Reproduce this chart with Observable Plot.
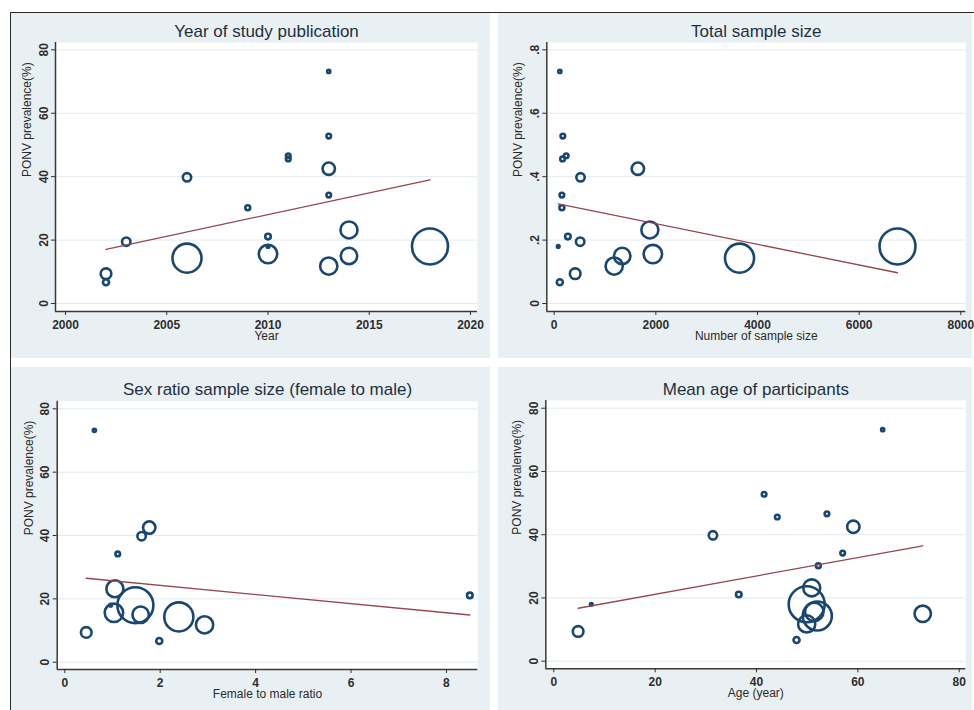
<!DOCTYPE html>
<html>
<head>
<meta charset="utf-8">
<script src="https://cdn.jsdelivr.net/npm/d3@7"></script>
<script src="https://cdn.jsdelivr.net/npm/@observablehq/plot@0.6"></script>
<style>
html, body { margin: 0; padding: 0; background: #ffffff; }
#wrap { position: relative; width: 974px; height: 710px; overflow: hidden; font-family: "Liberation Sans", Arial, sans-serif; }
.panel { position: absolute; background: #e8f0f3; overflow: visible; }
.panel svg { display: block; }
#border { position: absolute; left: 9.5px; top: 11.5px; right: 0; bottom: 0; border-top: 1.5px solid #2b2b2b; border-left: 1.5px solid #2b2b2b; pointer-events: none; }
</style>
</head>
<body>
<div id="wrap"></div>
<script>
// ---- Data (one entry per study) ----
const prevalence  = [73.2, 52.8, 45.6, 46.6, 39.8, 42.5, 34.2, 30.2, 21.1, 18.0, 19.5, 23.2, 15.6, 15.0, 11.8, 14.3, 18.0, 9.4, 6.7];
const pubYear     = [2013, 2013, 2011, 2011, 2006, 2013, 2013, 2009, 2010, 2010, 2003, 2014, 2010, 2014, 2013, 2006, 2018, 2002, 2002];
const sampleSize  = [111, 170, 164, 236, 518, 1646, 151, 151, 269, 79, 511, 1882, 1941, 1338, 1180, 3646, 6754, 413, 111];
const sexRatio    = [0.62, null, null, null, 1.61, 1.77, 1.11, null, 8.49, 0.96, null, 1.05, 1.03, 1.59, 2.93, 2.39, 1.48, 0.45, 1.98];
const meanAge     = [64.9, 41.5, 44.1, 53.9, 31.4, 59.1, 57.0, 52.2, 36.5, 7.4, null, 50.9, 51.4, 72.8, 49.9, 52.0, 49.9, 4.8, 47.9];
const studyWeight = [0.35, 0.75, 0.75, 0.75, 2.5, 5.4, 0.75, 0.85, 1.1, 0.25, 2.5, 10.2, 12, 9.5, 10.5, 29.8, 45.8, 4.0, 1.3];

// ---- Fitted meta-regression lines (end points) ----
const fitYearX = [2002, 2018],  fitYearY = [17.1, 39.0];
const fitSizeX = [79, 6754],    fitSizeY = [0.314, 0.097];
const fitSexX  = [0.45, 8.49],  fitSexY  = [26.5, 14.9];
const fitAgeX  = [4.8, 72.8],   fitAgeY  = [16.75, 36.5];

// ---- Ticks ----
const yearTicks   = [2000, 2005, 2010, 2015, 2020];
const sampleTicks = [0, 2000, 4000, 6000, 8000];
const sexTicks    = [0, 2, 4, 6, 8];
const ageTicks    = [0, 20, 40, 60, 80];
const prevTicks   = [0, 20, 40, 60, 80];
const propTicks   = [0, 0.2, 0.4, 0.6, 0.8];

// ---- Texts ----
const panelTitles = ["Year of study publication", "Total sample size", "Sex ratio sample size (female to male)", "Mean age of participants"];
const xLabels = ["Year", "Number of sample size", "Female to male ratio", "Age (year)"];
const yLabels = ["PONV prevalence(%)", "PONV prevalence(%)", "PONV prevalence(%)", "PONV prevalenve(%)"];

const rows = prevalence.map((p, i) => ({
  prev: p, prop: p / 100, year: pubYear[i], n: sampleSize[i],
  sex: sexRatio[i], age: meanAge[i], w: studyWeight[i]
}));

const NAVY = "#1a476f";
const FIT = "#97454e";
const AXIS = "#3a3a3a";
const wrap = document.getElementById("wrap");

function makePanel(cfg) {
  const div = document.createElement("div");
  div.className = "panel";
  div.style.left = cfg.left + "px";
  div.style.top = cfg.top + "px";
  div.style.width = cfg.width + "px";
  div.style.height = cfg.height + "px";
  const data = rows.filter(d => d[cfg.xKey] != null);
  const fit = cfg.fitX.map((x, i) => ({x, y: cfg.fitY[i]}));
  const chart = Plot.plot({
    width: cfg.width,
    height: cfg.height,
    marginTop: cfg.mt, marginRight: cfg.mr, marginBottom: cfg.mb, marginLeft: cfg.ml,
    x: {domain: cfg.xDomain, axis: null},
    y: {domain: cfg.yDomain, axis: null},
    r: {domain: [0, d3.max(studyWeight)], range: [0, 18]},
    style: {background: "transparent", fontFamily: "'Liberation Sans', Arial, sans-serif", fontSize: "12px", color: "#2e2e2e", overflow: "visible"},
    marks: [
      Plot.frame({fill: "white", stroke: "none"}),
      Plot.ruleY(cfg.yTicks, {stroke: "#e2eaee", strokeWidth: 1}),
      Plot.dot(data, {x: cfg.xKey, y: cfg.yKey, r: "w", stroke: NAVY, strokeWidth: 2.6, fill: "none"}),
      Plot.line(fit, {x: "x", y: "y", stroke: FIT, strokeWidth: 1.3}),
      Plot.ruleX([cfg.xDomain[0]], {stroke: AXIS, strokeWidth: 1.5}),
      Plot.ruleY([cfg.yDomain[0]], {stroke: AXIS, strokeWidth: 1.5}),
      Plot.axisX(cfg.xTicks, {tickSize: 4, tickPadding: 5, tickFormat: cfg.xFmt, fontWeight: "bold", label: null}),
      Plot.axisY(cfg.yTicks, {tickSize: 4, tickPadding: 4, tickRotate: -90, tickFormat: cfg.yFmt, fontWeight: "bold", label: null}),
      Plot.text([cfg.title], {text: d => d, frameAnchor: "top", dy: -6, lineAnchor: "bottom", fontSize: 17, fill: "#1f2f42"}),
      Plot.text([cfg.xLabel], {text: d => d, frameAnchor: "bottom", dy: 20, lineAnchor: "top", fontSize: 12, fill: "#2a2a2a"}),
      Plot.text([cfg.yLabel], {text: d => d, frameAnchor: "left", dx: -33, rotate: -90, lineAnchor: "top", fontSize: 12, fill: "#2a2a2a"})
    ]
  });
  div.appendChild(chart);
  wrap.appendChild(div);
}

const plainFmt = d => String(d);
const propFmt = d => d === 0 ? "0" : d3.format(".1f")(d).replace(/^0/, "");

makePanel({
  left: 10, top: 12, width: 480, height: 346, mt: 30, mr: 13, mb: 47, ml: 45,
  xDomain: [1999.506, 2020.346], yDomain: [-2.52, 82.31],
  xKey: "year", yKey: "prev", xTicks: yearTicks, yTicks: prevTicks, xFmt: plainFmt, yFmt: plainFmt,
  fitX: fitYearX, fitY: fitYearY, title: panelTitles[0], xLabel: xLabels[0], yLabel: yLabels[0]
});
makePanel({
  left: 498, top: 12, width: 474, height: 346, mt: 30, mr: 6.7, mb: 47, ml: 48.3,
  xDomain: [-145.6, 8098], yDomain: [-0.0252, 0.8231],
  xKey: "n", yKey: "prop", xTicks: sampleTicks, yTicks: propTicks, xFmt: plainFmt, yFmt: propFmt,
  fitX: fitSizeX, fitY: fitSizeY, title: panelTitles[1], xLabel: xLabels[1], yLabel: yLabels[1]
});
makePanel({
  left: 10, top: 367, width: 480, height: 343, mt: 33.7, mr: 12.7, mb: 41, ml: 46.7,
  xDomain: [-0.159, 8.657], yDomain: [-2.30, 82.40],
  xKey: "sex", yKey: "prev", xTicks: sexTicks, yTicks: prevTicks, xFmt: plainFmt, yFmt: plainFmt,
  fitX: fitSexX, fitY: fitSexY, title: panelTitles[2], xLabel: xLabels[2], yLabel: yLabels[2]
});
makePanel({
  left: 498, top: 367, width: 474, height: 343, mt: 33, mr: 6.7, mb: 41.7, ml: 47.3,
  xDomain: [-1.58, 81.30], yDomain: [-2.40, 82.44],
  xKey: "age", yKey: "prev", xTicks: ageTicks, yTicks: prevTicks, xFmt: plainFmt, yFmt: plainFmt,
  fitX: fitAgeX, fitY: fitAgeY, title: panelTitles[3], xLabel: xLabels[3], yLabel: yLabels[3]
});

const border = document.createElement("div");
border.id = "border";
wrap.appendChild(border);
</script>
</body>
</html>
